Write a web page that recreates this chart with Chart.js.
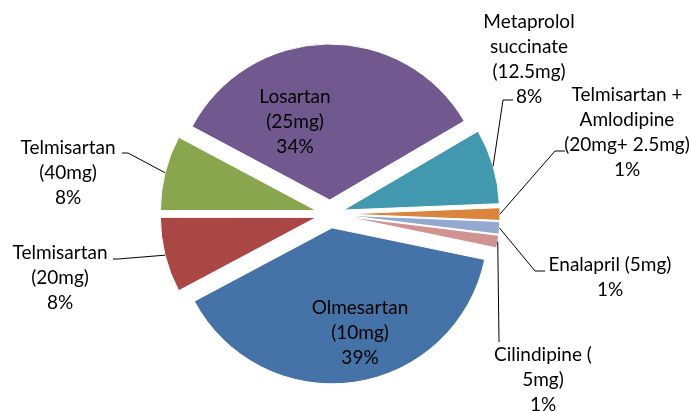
<!DOCTYPE html>
<html>
<head>
<meta charset="utf-8">
<script src="https://cdn.jsdelivr.net/npm/chart.js@4.4.0/dist/chart.umd.min.js"></script>
<style>
    html, body { margin: 0; padding: 0; background: #fff; }
</style>
</head>
<body>
<canvas id="graficoPie" width="691" height="411"></canvas>
<script>
// datos (pacientes por tratamiento, total 77)
const categorias = [
    ['Olmesartan', '(10mg)'],
    ['Telmisartan', '(20mg)'],
    ['Telmisartan', '(40mg)'],
    ['Losartan', '(25mg)'],
    ['Metaprolol', 'succinate', '(12.5mg)'],
    ['Telmisartan +', 'Amlodipine', '(20mg+ 2.5mg)'],
    ['Enalapril (5mg)'],
    ['Cilindipine (', '5mg)']
]
const pacientes = [30, 6, 6, 26, 6, 1, 1, 1]
const colores = ['#4572A7', '#AA4643', '#89A54E', '#71588F', '#4198AF', '#DB843D', '#93A9CF', '#D19392']

// donde va cada etiqueta: centro x, y de la primera linea, codo de la linea guia
const posEtiquetas = [
    { x: 360, y: 308 },
    { x: 60, y: 253, linea: [[113, 259], [118, 259]] },
    { x: 68, y: 148, linea: [[122, 153], [128, 153]] },
    { x: 295, y: 97 },
    { x: 529, y: 22, linea: [[513, 100], [503, 100]] },
    { x: 627, y: 95, linea: [[565, 151], [555, 151]] },
    { x: 610, y: 265, linea: [[545, 271], [535, 271]] },
    { x: 543, y: 355, linea: [[499, 342]] }
]

// separa cada porcion del centro, como el pie "explotado" de excel
const explotar = {
    id: 'explotar',
    afterDatasetsUpdate(chart, args, opts) {
        chart.getDatasetMeta(0).data.forEach(arc => {
            let medio = (arc.startAngle + arc.endAngle) / 2
            arc.x += Math.cos(medio) * opts.distancia
            arc.y += Math.sin(medio) * opts.distancia
        })
    }
}

const etiquetas = {
    id: 'etiquetas',
    afterDatasetsDraw(chart) {
        const ctx = chart.ctx
        const total = pacientes.reduce((a, b) => a + b, 0)
        ctx.save()
        ctx.font = '19px Lato'
        ctx.fillStyle = '#000'
        ctx.strokeStyle = '#000'
        ctx.lineWidth = 1
        ctx.textAlign = 'center'
        ctx.textBaseline = 'middle'
        chart.getDatasetMeta(0).data.forEach((arc, i) => {
            let pos = posEtiquetas[i]
            let lineas = categorias[i].concat(Math.round(pacientes[i] / total * 100) + '%')
            lineas.forEach((txt, j) => ctx.fillText(txt, pos.x, pos.y + j * 25))
            if (pos.linea) {
                let medio = (arc.startAngle + arc.endAngle) / 2
                let ax = arc.x + Math.cos(medio) * arc.outerRadius
                let ay = arc.y + Math.sin(medio) * arc.outerRadius
                ctx.beginPath()
                ctx.moveTo(pos.linea[0][0], pos.linea[0][1])
                pos.linea.slice(1).forEach(p => ctx.lineTo(p[0], p[1]))
                ctx.lineTo(ax, ay)
                ctx.stroke()
            }
        })
        ctx.restore()
    }
}

new Chart(document.getElementById('graficoPie'), {
    type: 'pie',
    data: {
        labels: categorias,
        datasets: [{
            data: pacientes,
            backgroundColor: colores,
            borderColor: '#fff',
            borderWidth: 1
        }]
    },
    options: {
        responsive: false,
        animation: false,
        rotation: 101.7,
        radius: 156,
        layout: { padding: { left: 0, right: 31, top: 17, bottom: 0 } },
        plugins: {
            legend: { display: false },
            tooltip: { enabled: false },
            explotar: { distancia: 14 }
        }
    },
    plugins: [explotar, etiquetas]
});
</script>
</body>
</html>
